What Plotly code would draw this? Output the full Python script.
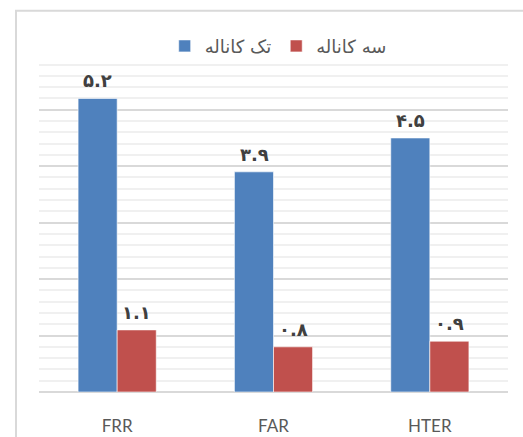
import plotly.graph_objects as go

categories = ["FRR", "FAR", "HTER"]
single_channel = [5.2, 3.9, 4.5]
three_channel = [1.1, 0.8, 0.9]
series_names = ["تک کاناله", "سه کاناله"]
colors = ["#4F81BD", "#C0504D"]

PERSIAN_DIGITS = str.maketrans("0123456789", "۰۱۲۳۴۵۶۷۸۹")


def fa(v):
    return f"{v:.1f}".translate(PERSIAN_DIGITS)


fig = go.Figure()
for name, vals, col in zip(series_names, [single_channel, three_channel], colors):
    fig.add_trace(go.Bar(
        x=categories, y=vals, name=name,
        marker=dict(color=col, line=dict(color="rgba(255,255,255,0.6)", width=1)),
    ))

# value labels above each bar
annotations = []
for vals, shift in [(single_channel, -19.5), (three_channel, 19.5)]:
    for c, v in zip(categories, vals):
        annotations.append(dict(
            x=c, y=v, xref="x", yref="y", text=fa(v), showarrow=False,
            xshift=shift, yanchor="bottom", yshift=5,
            font=dict(family="DejaVu Sans", size=18, color="#404040", weight="bold"),
        ))

fig.update_layout(
    width=523, height=437,
    margin=dict(l=39, r=15, t=53, b=45, autoexpand=False),
    paper_bgcolor="white", plot_bgcolor="white",
    barmode="group", bargap=0.5, bargroupgap=0,
    showlegend=True,
    legend=dict(
        orientation="h", x=0.51, xanchor="center", y=1.02, yanchor="middle",
        font=dict(family="DejaVu Sans", size=18, color="#595959"),
        bgcolor="rgba(0,0,0,0)", itemwidth=30, traceorder="normal",
    ),
    annotations=annotations,
    shapes=[dict(
        type="rect", xref="paper", yref="paper",
        x0=-0.049, x1=1.2, y0=-0.3, y1=1.125,
        line=dict(color="#d9d9d9", width=2), layer="below",
    )],
)
fig.update_xaxes(
    showgrid=False, showline=False, zeroline=False, automargin=False,
    tickfont=dict(family="Lato", size=17, color="#595959"),
    ticks="", ticklabelstandoff=22,
)
fig.update_yaxes(
    range=[0, 6.005], dtick=1, showticklabels=False, automargin=False,
    showgrid=True, gridcolor="#d9d9d9", gridwidth=1.5,
    zeroline=True, zerolinecolor="#d9d9d9", zerolinewidth=2,
    minor=dict(dtick=0.2, showgrid=True, gridcolor="#f0f0f0", gridwidth=1.5),
    showline=False,
)

fig.write_html("out.html")
